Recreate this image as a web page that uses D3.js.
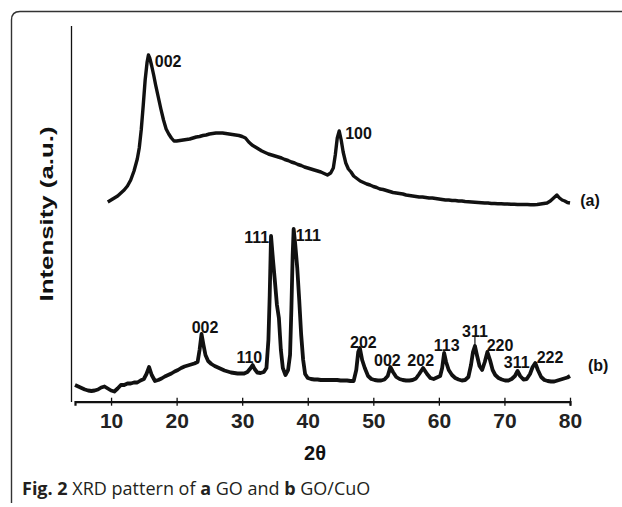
<!DOCTYPE html>
<html>
<head>
<meta charset="utf-8">
<script src="https://cdn.jsdelivr.net/npm/d3@7"></script>
<style>
  body { margin: 0; background: #fff; }
  svg { display: block; }
  .peak { font-family: "Liberation Sans", Arial, sans-serif; font-weight: bold; font-size: 16px; fill: #111; }
</style>
</head>
<body>
<div id="chart"></div>
<script>
// 2theta (deg) / intensity (a.u.)
var goAngle = [9.5,10,10.5,11,11.5,12,12.5,13,13.5,14,14.3,14.6,14.9,15.2,15.5,15.7,15.9,16.2,16.5,16.8,17.2,17.6,18,18.4,18.8,19.2,19.6,20,20.5,21,21.5,22,22.5,23,23.5,24,24.5,25,25.5,26,26.5,27,27.5,28,28.5,29,29.5,30,30.5,31,31.5,32,32.5,33,33.5,34,34.5,35,35.5,36,36.5,37,37.5,38,38.5,39,39.5,40,40.5,41,41.5,42,42.5,43,43.5,43.9,44.2,44.5,44.8,45.1,45.4,45.8,46.2,46.6,47,47.5,48,48.5,49,49.5,50,50.5,51,51.5,52,52.5,53,53.5,54,54.5,55,55.5,56,56.5,57,57.5,58,58.5,59,59.5,60,60.5,61,61.5,62,62.5,63,63.5,64,64.5,65,65.5,66,66.5,67,67.5,68,68.5,69,69.5,70,70.5,71,71.5,72,72.5,73,73.5,74,74.5,75,75.5,76,76.5,77,77.5,78,78.4,78.8,79.2,79.6,80];
var goInt = [796,804,812,820,832,844,860,884,920,968,1012,1084,1180,1284,1356,1384,1372,1340,1304,1264,1216,1168,1124,1088,1068,1052,1040,1040,1042,1044,1046,1048,1052,1056,1058,1062,1064,1068,1070,1072,1072,1072,1070,1068,1066,1064,1062,1058,1052,1036,1024,1016,1008,1000,994,988,984,980,976,972,966,962,956,952,946,942,936,932,928,924,920,916,910,904,912,932,984,1052,1080,1044,996,952,928,916,900,890,880,874,868,864,858,854,848,846,842,838,834,832,830,828,824,822,820,818,816,816,814,812,812,810,808,806,804,804,802,802,800,800,798,797,796,795,794,793,792,792,790,790,789,789,788,788,787,787,786,786,786,786,785,785,786,788,790,792,800,812,824,812,804,800,794,792];

var cuoAngle = [4.5,5,5.5,6,6.5,7,7.5,8,8.5,9,9.5,10,10.5,11,11.5,12,12.5,13,13.5,14,14.5,15,15.4,15.8,16.2,16.7,17.2,17.7,18.2,18.7,19.2,19.7,20.2,20.7,21.2,21.7,22.2,22.7,23.2,23.5,23.8,24.1,24.4,24.8,25.3,25.8,26.3,26.8,27.3,27.8,28.3,28.8,29.3,29.8,30.3,30.8,31.3,31.6,31.9,32.3,32.8,33.3,33.7,34,34.2,34.4,34.7,35,35.3,35.6,35.9,36.2,36.6,37,37.3,37.5,37.7,37.85,38.1,38.4,38.7,39,39.3,39.6,40,40.5,41,41.5,42,42.5,43,43.5,44,44.5,45,45.5,46,46.5,47,47.4,47.7,47.95,48.3,48.7,49.2,49.7,50.2,50.7,51.2,51.7,52.2,52.6,53,53.5,54,54.5,55,55.5,56,56.5,57,57.6,58.2,58.7,59.2,59.7,60.2,60.5,60.8,61.1,61.5,62,62.5,63,63.5,64,64.5,64.9,65.2,65.5,65.8,66.2,66.6,67,67.4,67.8,68.2,68.6,69.1,69.6,70.1,70.6,71.1,71.6,72,72.4,72.9,73.4,73.9,74.3,74.7,75.1,75.6,76.1,76.6,77.1,77.6,78.1,78.6,79.1,79.6,80];
var cuoInt = [64,58,52,46,42,40,42,46,54,58,50,42,38,50,64,64,70,70,74,74,82,88,108,136,104,80,84,90,98,104,110,118,124,132,138,142,146,150,156,204,268,224,184,160,148,140,134,128,122,118,114,112,110,110,110,116,132,144,128,114,112,116,132,244,424,660,564,476,384,332,204,132,104,124,184,364,584,688,624,532,404,264,164,108,92,88,86,86,84,84,84,84,84,84,82,82,82,80,80,124,196,212,164,132,100,88,84,82,82,86,100,136,116,96,88,84,82,82,84,90,108,132,108,92,88,94,100,132,192,156,124,104,92,86,82,84,96,144,196,220,184,140,124,156,196,164,124,104,92,86,82,82,88,100,120,100,86,88,108,136,152,124,96,84,80,78,78,82,86,90,94,100];

// reflection labels: text, 2theta, intensity where the label sits
var goPeakText = ["002","100"];
var goPeakAngle = [18.7,47.75];
var goPeakInt = [1361,1071];

var cuoPeakText = ["002","110","111","111","202","002","202","113","311","220","311","222"];
var cuoPeakAngle = [24.34,31.09,32.22,40.09,48.48,52.14,57.23,61.2,65.5,69.33,71.87,76.95];
var cuoPeakInt = [297,177,657,664,237,164,164,224,280,224,157,177];

var xTicks = [10,20,30,40,50,60,70,80];

var width = 622, height = 507;

var svg = d3.select("#chart").append("svg")
    .attr("width", width)
    .attr("height", height);

// frame of the figure panel
svg.append("path")
    .attr("d", "M640,11.5 L20,11.5 Q11.5,11.5 11.5,20 L11.5,503")
    .attr("fill", "none")
    .attr("stroke", "#333")
    .attr("stroke-width", 1.4);

var x = d3.scaleLinear().domain([4.5, 80]).range([75, 570]);
var y = d3.scaleLinear().domain([0, 1500]).range([401, 26]);

// y axis is just a bare line
svg.append("line")
    .attr("x1", 71.5).attr("x2", 71.5)
    .attr("y1", 26).attr("y2", 402)
    .attr("stroke", "#111")
    .attr("stroke-width", 1.3);

var xAxis = d3.axisBottom(x)
    .tickValues(xTicks)
    .tickSizeOuter(0)
    .tickSize(4);

var gX = svg.append("g")
    .attr("transform", "translate(0,401.7)")
    .call(xAxis);

gX.select(".domain").attr("stroke", "#111").attr("stroke-width", 2.2);
gX.selectAll(".tick line").attr("y1", -4).attr("y2", 4).attr("stroke", "#111").attr("stroke-width", 1.3);
gX.selectAll(".tick text")
    .attr("y", 11)
    .attr("font-family", "Liberation Sans, Arial, sans-serif")
    .attr("font-weight", "bold")
    .attr("font-size", 21)
    .attr("fill", "#222");

var line = d3.line()
    .x(function (d) { return x(d[0]); })
    .y(function (d) { return y(d[1]); });

var goData = goAngle.map(function (a, i) { return [a, goInt[i]]; });
var cuoData = cuoAngle.map(function (a, i) { return [a, cuoInt[i]]; });

svg.append("path")
    .datum(goData)
    .attr("d", line)
    .attr("fill", "none")
    .attr("stroke", "#111")
    .attr("stroke-width", 3.4)
    .attr("stroke-linejoin", "round");

svg.append("path")
    .datum(cuoData)
    .attr("d", line)
    .attr("fill", "none")
    .attr("stroke", "#111")
    .attr("stroke-width", 3.8)
    .attr("stroke-linejoin", "round");

// peak labels
svg.append("g").selectAll("text")
    .data(goPeakText.map(function (t, i) { return [t, goPeakAngle[i], goPeakInt[i]]; })
        .concat(cuoPeakText.map(function (t, i) { return [t, cuoPeakAngle[i], cuoPeakInt[i]]; })))
    .enter().append("text")
    .attr("class", "peak")
    .attr("x", function (d) { return x(d[1]); })
    .attr("y", function (d) { return y(d[2]); })
    .attr("dy", "0.36em")
    .attr("text-anchor", "middle")
    .text(function (d) { return d[0]; });

// little pointer under the 311 label
svg.append("line")
    .attr("x1", x(65.5)).attr("x2", x(65.5))
    .attr("y1", y(258)).attr("y2", y(222))
    .attr("stroke", "#111")
    .attr("stroke-width", 1.2);

// series tags
svg.append("text").attr("class", "peak")
    .attr("x", x(83.05)).attr("y", y(804)).attr("dy", "0.36em")
    .attr("text-anchor", "middle").text("(a)");
svg.append("text").attr("class", "peak")
    .attr("x", x(84.3)).attr("y", y(144)).attr("dy", "0.36em")
    .attr("text-anchor", "middle").text("(b)");

// axis titles
svg.append("text")
    .attr("x", 315).attr("y", 460)
    .attr("text-anchor", "middle")
    .attr("font-family", "Liberation Sans, Arial, sans-serif")
    .attr("font-weight", "bold")
    .attr("font-size", 20)
    .attr("fill", "#111")
    .text("2θ");

svg.append("text")
    .attr("transform", "translate(53,214) rotate(-90)")
    .attr("text-anchor", "middle")
    .attr("font-family", "Liberation Sans, Arial, sans-serif")
    .attr("font-weight", "bold")
    .attr("font-size", 19)
    .attr("fill", "#111")
    .attr("textLength", 175)
    .attr("lengthAdjust", "spacingAndGlyphs")
    .text("Intensity (a.u.)");

// caption
var cap = svg.append("text")
    .attr("x", 22).attr("y", 495)
    .attr("font-family", "Open Sans, sans-serif")
    .attr("font-size", 18)
    .attr("fill", "#231f20");
cap.append("tspan").attr("font-weight", "bold").text("Fig. 2");
cap.append("tspan").text(" XRD pattern of ");
cap.append("tspan").attr("font-weight", "bold").text("a");
cap.append("tspan").text(" GO and ");
cap.append("tspan").attr("font-weight", "bold").text("b");
cap.append("tspan").text(" GO/CuO");
</script>
</body>
</html>
